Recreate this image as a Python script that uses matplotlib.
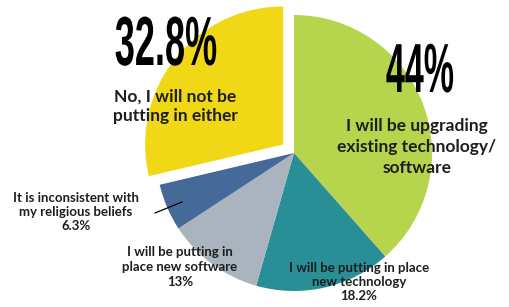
import matplotlib
matplotlib.use('Agg')
from matplotlib import pyplot as plt
from matplotlib.patheffects import AbstractPathEffect
from matplotlib.transforms import Affine2D

# slice values as printed (they add up to 114.3, pie normalises them)
labels = ['I will be upgrading\nexisting technology/\nsoftware',
          'I will be putting in place\nnew technology',
          'I will be putting in\nplace new software',
          'It is inconsistent with\nmy religious beliefs',
          'No, I will not be\nputting in either']
values = [44, 18.2, 13, 6.3, 32.8]
pct_text = ['44%', '18.2%', '13%', '6.3%', '32.8%']
colors = ['#b6d44c', '#2a8e97', '#a9b4bf', '#456a99', '#f0d817']
explode = [0, 0, 0, 0, 0.1]

W, H = 509, 307
R = 138.0
cx, cy = 294, 153


class Squeeze(AbstractPathEffect):
    # narrows the glyphs around a given x (display pixels), like a condensed face
    def __init__(self, sx, x0):
        super().__init__()
        self.sx = sx
        self.x0 = x0

    def draw_path(self, renderer, gc, tpath, affine, rgbFace=None):
        t = affine + Affine2D().translate(-self.x0, 0).scale(self.sx, 1).translate(self.x0, 0)
        renderer.draw_path(gc, tpath, t, rgbFace)


fig = plt.figure(figsize=(W / 100, H / 100), dpi=100)
ax = fig.add_axes([0, 0, 1, 1])
ax.pie(values, colors=colors, explode=explode, startangle=90,
       counterclock=False, radius=1, center=(0, 0),
       wedgeprops=dict(linewidth=0))
ax.set_xlim(-cx / R, (W - cx) / R)
ax.set_ylim(-(H - cy) / R, cy / R)
ax.set_aspect('auto')
ax.axis('off')


def px(x, y):
    return (x - cx) / R, (cy - y) / R


big = dict(family=['Liberation Sans', 'DejaVu Sans'], weight='bold',
           ha='center', va='center', color='black')
lab = dict(family=['Lato', 'DejaVu Sans'], weight='bold',
           ha='center', va='center', color='#1e1e1e')

ax.text(*px(166, 47), pct_text[4], fontsize=50, path_effects=[Squeeze(0.52, 166)], **big)
ax.text(*px(420, 74), pct_text[0], fontsize=50, path_effects=[Squeeze(0.49, 420)], **big)

ax.text(*px(175, 106), labels[4], fontsize=12.5, linespacing=1.3, **lab)
ax.text(*px(417, 147), labels[0], fontsize=12.5, linespacing=1.35, **lab)

ax.text(*px(76, 212), labels[3] + '\n' + pct_text[3], fontsize=9.5, linespacing=1.25, **lab)
ax.text(*px(180, 267), labels[2] + '\n' + pct_text[2], fontsize=9.5, linespacing=1.25, **lab)
ax.text(*px(359, 282), labels[1] + '\n' + pct_text[1], fontsize=9.5, linespacing=1.25, **lab)

x0, y0 = px(155, 213)
x1, y1 = px(182, 202)
ax.plot([x0, x1], [y0, y1], color='black', linewidth=0.9)

fig.savefig('out.png', dpi=100)
